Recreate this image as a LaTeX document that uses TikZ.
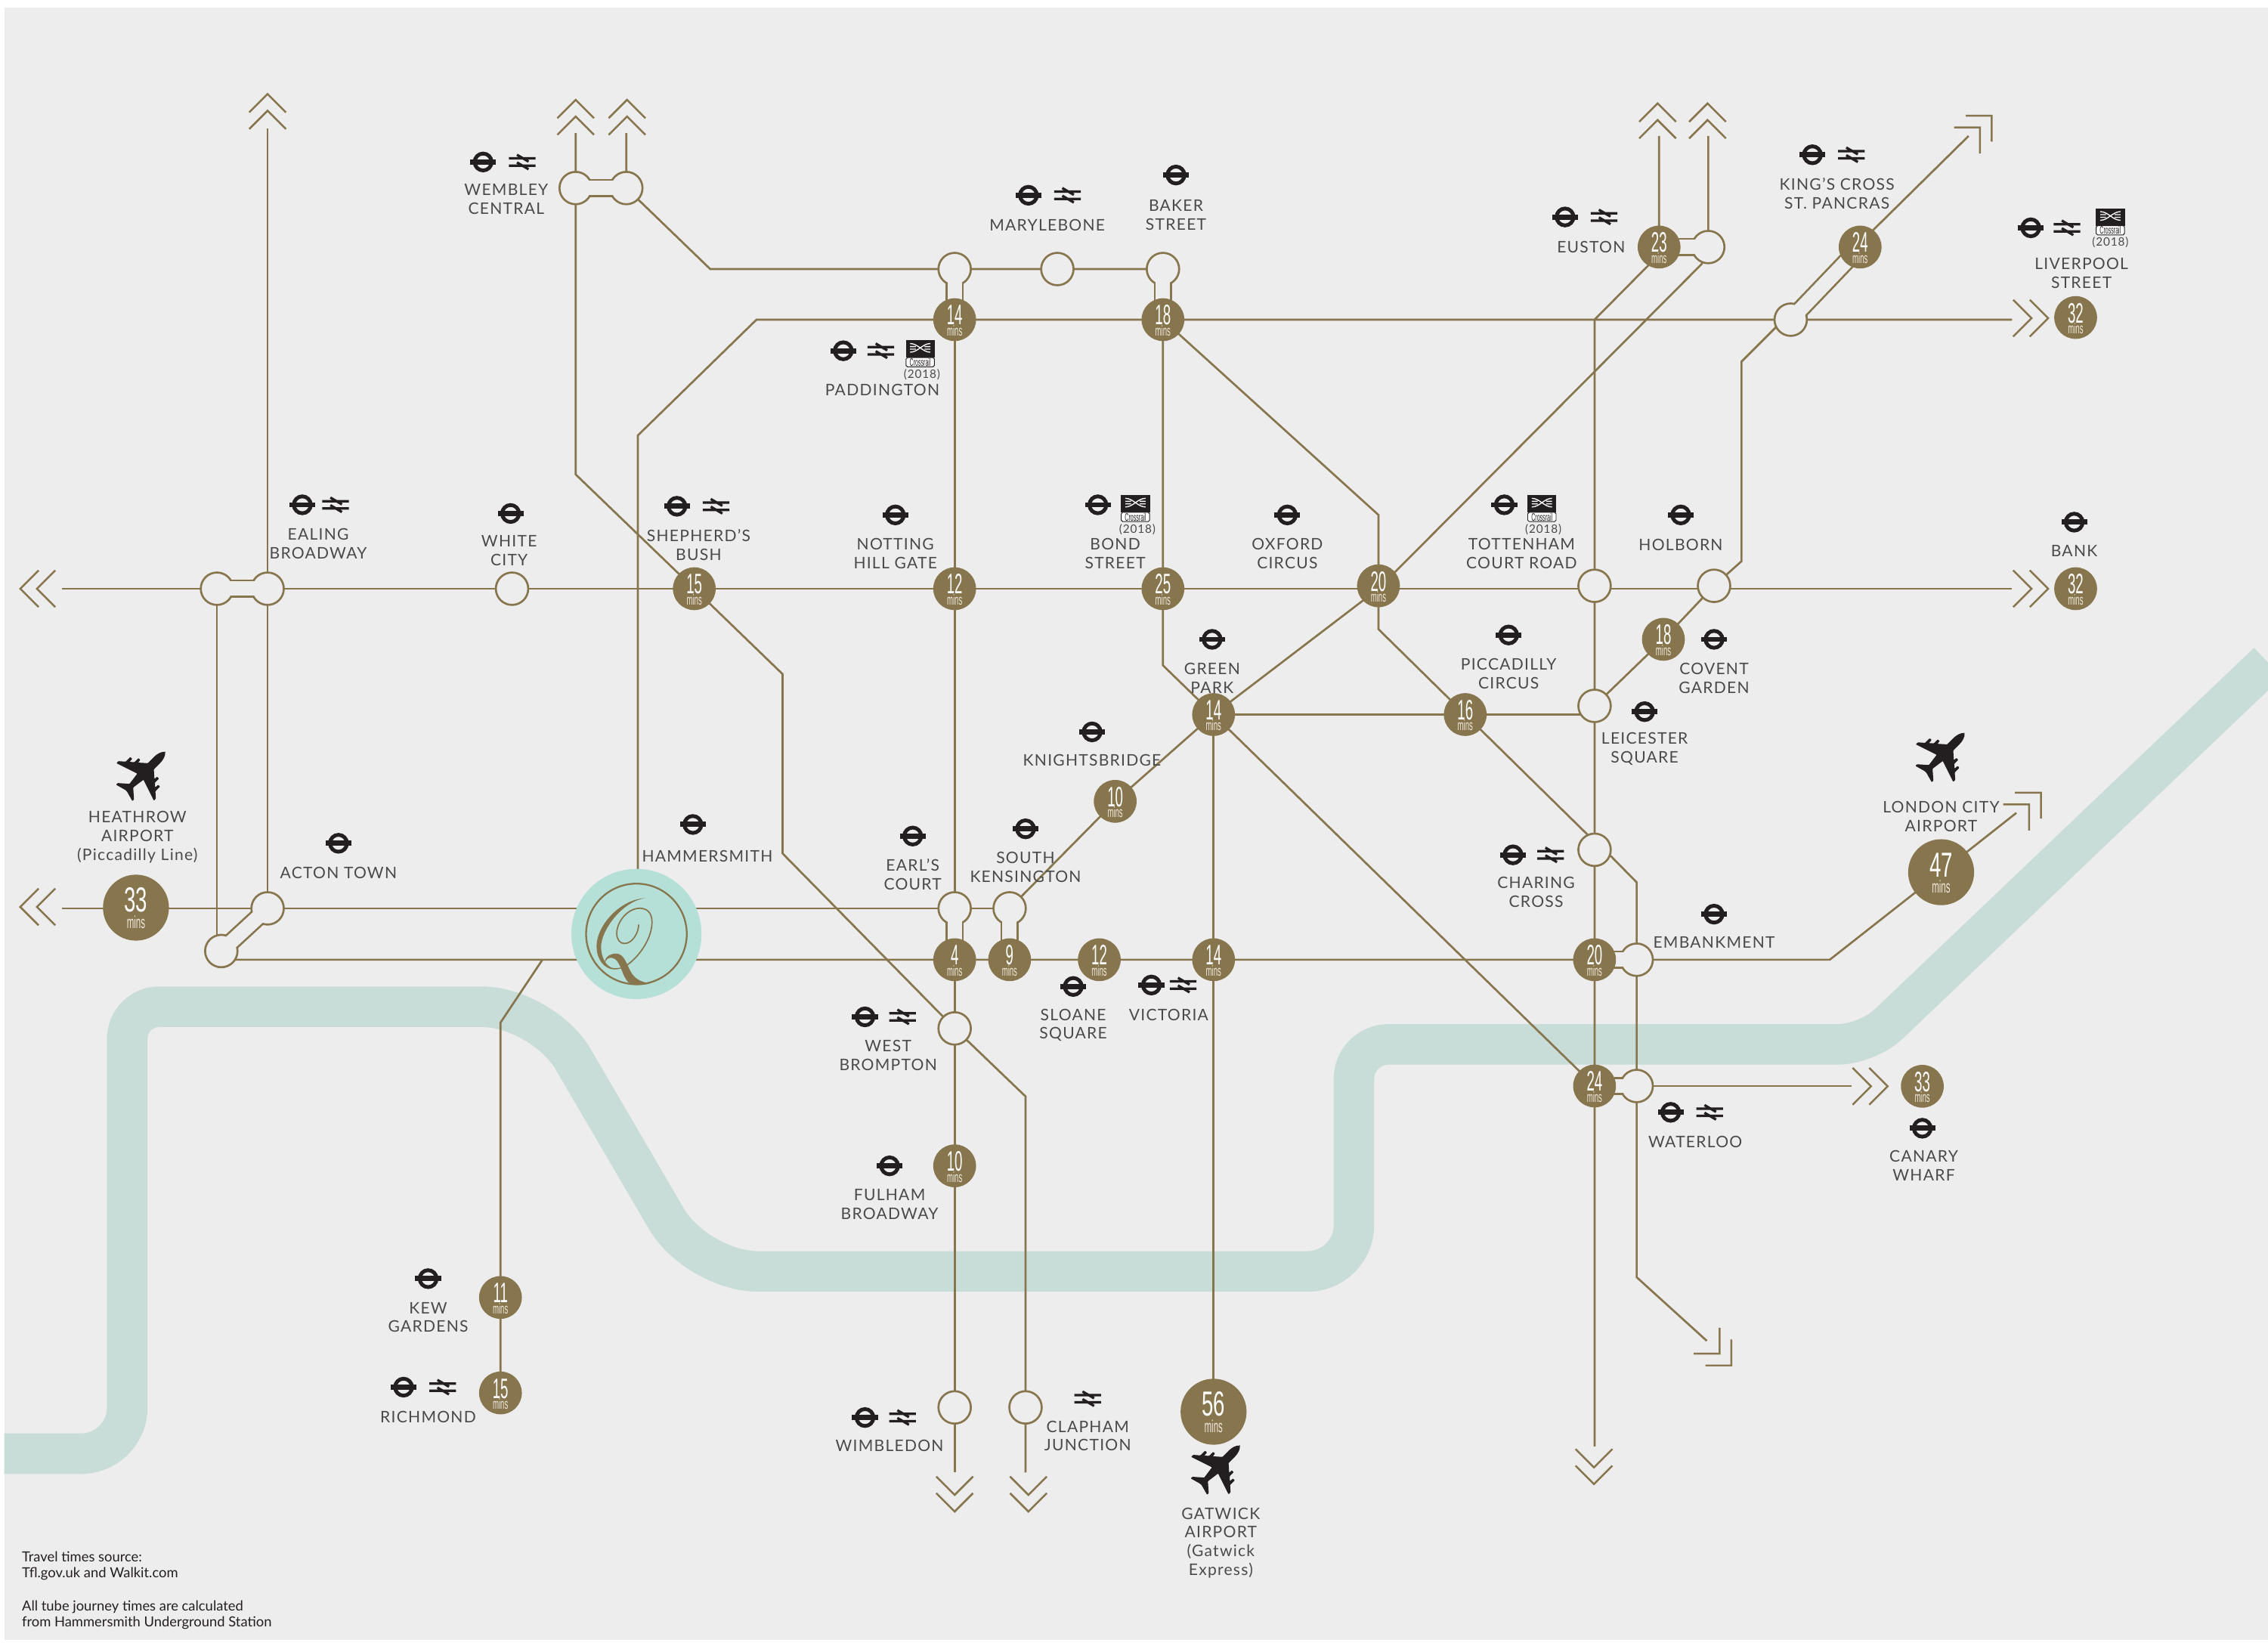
\documentclass[tikz,border=0pt]{standalone}
\usepackage{fontspec}
\setmainfont{Lato}
\newfontfamily\labfam[LetterSpace=6]{Lato}
\newfontfamily\numfam[FakeStretch=0.5]{Liberation Sans}
\newfontfamily\bignumfam[FakeStretch=0.6]{Liberation Sans}
\definecolor{gold}{HTML}{87754E}
\definecolor{paper}{HTML}{EDEDED}
\definecolor{river}{HTML}{C8DDD8}
\definecolor{mint}{HTML}{B5E0D8}
\definecolor{ink}{HTML}{231F20}
\definecolor{labc}{HTML}{4A4A4A}
\definecolor{cream}{HTML}{EFE9DC}
\pgfdeclarelayer{back}\pgfdeclarelayer{lines}\pgfdeclarelayer{bridgeout}\pgfdeclarelayer{bridgein}\pgfdeclarelayer{top}
\pgfsetlayers{back,lines,bridgeout,main,bridgein,top}
\tikzset{
 tube/.style={draw=gold,line width=1.4pt},
 openst/.style={circle,draw=gold,fill=paper,line width=1.4pt,minimum size=22.4pt,inner sep=0pt},
 timest/.style={circle,fill=gold,minimum size=29.6pt,inner sep=0pt,text=white},
 bigst/.style={circle,fill=gold,minimum size=45.6pt,inner sep=0pt,text=white},
 lab/.style={align=center,inner sep=0pt,text=labc,yshift=-0.7pt,font=\labfam\fontsize{11}{13}\selectfont},
 tiny/.style={align=center,inner sep=0pt,text=labc,font=\labfam\fontsize{8}{9}\selectfont},
 foot/.style={align=left,anchor=west,inner sep=0pt,text=ink,font=\fontsize{9.6}{11.3}\selectfont},
 chev/.pic={\draw[gold,line width=1.3pt] (-12.7,12.7)--(0,0)--(12.7,12.7) (-12.7,24.2)--(0,11.5)--(12.7,24.2);},
 roundel/.pic={\draw[ink,line width=2.6pt] (0,0) circle (5.85pt);\fill[ink] (-8.9,-1.8) rectangle (8.9,1.8);},
 railmark/.pic={\draw[ink,line width=1.7pt] (-9.2,-2.5)--(9.2,-2.5) (-9.2,2.5)--(9.2,2.5) (-3.6,-5)--(4.4,-0.3) (4.4,5)--(-3.6,0.3);},
 xrail/.pic={
   \fill[ink] (-10,-9.2) rectangle (10,2.7);
   \draw[ink,fill=white,line width=0.5pt,rounded corners=1pt] (-9.8,2.7) rectangle (9.8,9.1);
   \draw[white,line width=0.7pt] (-7,-7) .. controls (-1.5,-7) and (1.5,-1) .. (7,-1) (-7,-1) .. controls (-1.5,-1) and (1.5,-7) .. (7,-7) (-7,-4.9)--(-3,-4.9) (3,-4.9)--(7,-4.9) (-7,-3.1)--(-3,-3.1) (3,-3.1)--(7,-3.1);
   \node[inner sep=0pt,text=ink,font=\numfam\fontsize{7.4}{8}\selectfont] (-word) at (0,5.9) {Crossrail};},
 planeicon/.pic={\fill[ink,rounded corners=0.4pt] (0,-20) .. controls (2,-18.5) and (3,-15) .. (3,-12) -- (3,-6) -- (8,-1.6) -- (8.2,-4) -- (10,-4) -- (10,0) -- (12.5,2.2) -- (12.7,-0.6) -- (14.5,-0.6) -- (14.5,4) -- (18.3,7.3) -- (18.3,9.3) -- (3,4.2) -- (1.8,13) -- (8,18.4) -- (8,20) -- (0.8,18) -- (-0.8,18) -- (-8,20) -- (-8,18.4) -- (-1.8,13) -- (-3,4.2) -- (-18.3,9.3) -- (-18.3,7.3) -- (-14.5,4) -- (-14.5,-0.6) -- (-12.7,-0.6) -- (-12.5,2.2) -- (-10,0) -- (-10,-4) -- (-8.2,-4) -- (-8,-1.6) -- (-3,-6) -- (-3,-12) .. controls (-3,-15) and (-2,-18.5) .. (0,-20) -- cycle;},
}
\newcommand\tmst[3]{\node[timest] (#1) at (#2) {\smash{\makebox[0pt]{\raisebox{-3.6pt}{\numfam\fontsize{19.5}{20}\selectfont #3}}\makebox[0pt]{\raisebox{-11.2pt}{\color{cream}\numfam\fontsize{10}{10}\selectfont mins}}}};}
\newcommand\bgst[3]{\node[bigst] (#1) at (#2) {\smash{\makebox[0pt]{\raisebox{-3.1pt}{\bignumfam\fontsize{24}{24}\selectfont #3}}\makebox[0pt]{\raisebox{-14.5pt}{\color{cream}\numfam\fontsize{12}{12}\selectfont mins}}}};}
\newcommand\opst[2]{\node[openst] (#1) at (#2) {};}
\newcommand\slabel[3]{\node[lab] (#1) at (#2) {#3};}
\newcommand\bridgeseg[2]{%
 \begin{pgfonlayer}{bridgeout}\draw[gold,line width=12.7pt] (#1.center)--(#2.center);\end{pgfonlayer}%
 \begin{pgfonlayer}{bridgein}\draw[paper,line width=9.9pt] (#1.center)--(#2.center);\end{pgfonlayer}}
\begin{document}
\begin{tikzpicture}[x=1pt,y=-1pt]
\useasboundingbox (0,0) rectangle (1568,1135.4);
\begin{pgfonlayer}{back}
\fill[white] (0,0) rectangle (1568,1135.4);
\fill[paper] (3,5) rectangle (1568,1134);
\draw[river,line width=28pt] (3,1005) [rounded corners=32pt] -- (88,1005) [rounded corners=22pt] -- (88,696) [rounded corners=42pt] -- (375,696) -- (482,879) [rounded corners=32pt] -- (936,879) [rounded corners=24pt] -- (936,722) [rounded corners=20pt] -- (1291,722) [sharp corners] -- (1568,458);
\end{pgfonlayer}
% open stations
\opst{wemW}{398,130}\opst{wemE}{433,130}
\opst{padT}{660,186}\opst{mary}{731,186}\opst{baker}{804,186}
\opst{eusE}{1181,170.8}\opst{kc}{1238,221}
\opst{ealW}{150,407}\opst{ealE}{185,407}\opst{white}{354,407}
\opst{tcr}{1102.4,405}\opst{holb}{1185,405}\opst{leic}{1102.4,488}
\opst{actE}{185,628}\opst{actW}{153,657.5}
\opst{earlT}{660,628}\opst{skT}{698,628}
\opst{char}{1102.4,587.5}\opst{embE}{1131.5,663.5}\opst{watE}{1131.5,750.8}
\opst{wb}{660,711}\opst{wim}{660,973}\opst{clap}{709,973}
\begin{pgfonlayer}{top}
\tmst{pad}{660,221}{14}\tmst{bak}{804,221}{18}\tmst{eus}{1147,170.8}{23}\tmst{kc24}{1286,170.8}{24}
\tmst{liv}{1435,219.5}{32}\tmst{bank}{1435,407}{32}
\tmst{shep}{480,407}{15}\tmst{nott}{660,407}{12}\tmst{bond}{804,407}{25}\tmst{oxf}{953,405}{20}
\tmst{covent}{1150,442}{18}\tmst{gp}{839,494}{14}\tmst{picc}{1013,494}{16}\tmst{kni}{771,554}{10}
\tmst{earl}{660,663.5}{4}\tmst{sk}{698,663.5}{9}\tmst{slo}{760,663.5}{12}\tmst{vic}{839,663.5}{14}
\tmst{emb}{1102.4,663.5}{20}\tmst{wat}{1102.4,750.8}{24}\tmst{can}{1329,751}{33}
\tmst{ful}{660,806}{10}\tmst{kew}{346,897}{11}\tmst{rich}{346,963}{15}
\bgst{hea}{94,627.5}{33}\bgst{lc}{1342,603}{47}\bgst{gat}{839,976}{56}
\node[circle,fill=mint,minimum size=90pt,inner sep=0pt] (qm) at (440,645.7) {};
\draw[gold,line width=1.2pt] (qm.center) circle (34.8pt);
\begin{scope}[shift={(391.9,598.3)},x=0.17417pt,y=-0.17417pt]
\fill[gold] (310,130) .. controls (210,135) and (118,240) .. (118,320) .. controls (118,375) and (150,413) .. (190,413) .. controls (205,413) and (222,408) .. (238,397) .. controls (222,405) and (205,408) .. (190,408) .. controls (160,408) and (135,370) .. (136,320) .. controls (137,260) and (215,145) .. (310,130) -- cycle;
\fill[gold] (150,392) .. controls (148,365) and (170,350) .. (195,350) .. controls (225,350) and (235,385) .. (250,415) .. controls (265,445) and (285,462) .. (330,468) .. controls (300,478) and (265,475) .. (245,465) .. controls (225,445) and (220,415) .. (205,388) .. controls (190,360) and (160,360) .. (152,385) -- cycle;
\draw[gold,line width=0.9pt] (240,395) .. controls (300,350) and (338,280) .. (338,225) .. controls (338,185) and (315,170) .. (290,170) .. controls (240,170) and (198,225) .. (198,270) .. controls (198,295) and (212,310) .. (228,310) .. controls (262,310) and (285,265) .. (285,235);
\end{scope}
\end{pgfonlayer}
% free ends
\coordinate (q1) at (440,628);\coordinate (q2) at (440,663.5);\coordinate (q3) at (441,646);
\coordinate (eW) at (43,407);\coordinate (eE) at (1391,407);\coordinate (eH) at (43,628);
\coordinate (eU1) at (185,89);\coordinate (eU2) at (398,92);\coordinate (eU3) at (433,92);
\coordinate (eU4) at (1147,94);\coordinate (eU5) at (1181,94);
\coordinate (eP) at (1391,221);\coordinate (eK) at (1361,94);\coordinate (eLC) at (1394,562);
\coordinate (eCan) at (1280,750.8);\coordinate (eD1) at (660,1018);\coordinate (eD2) at (709,1018);\coordinate (eD3) at (1102.4,1000);\coordinate (eTh) at (1180,927);
\coordinate (branch) at (375,663.5);
\begin{pgfonlayer}{lines}
\draw[tube] (eW)--(ealW.center)--(ealE.center)--(white.center)--(shep.center)--(nott.center)--(bond.center)--(oxf.center |- nott.center)--(tcr.center |- nott.center)--(holb.center |- nott.center)--(eE);
\draw[tube] (eU1)--(ealE.center)--(actE.center);
\draw[tube] (ealW.center)--(ealW.center |- actW.center);
\draw[tube] (eH)--(hea.center |- eH)--(actE.center)--(q1)--(earlT.center)--(skT.center);
\draw[tube] (actW.center |- q2)--(q2)--(earl.center)--(sk.center)--(slo.center)--(vic.center)--(emb.center)--(embE.center)--(1265,663.5)--(lc.center)--(eLC);
\draw[tube] (branch)--(346,707)--(kew.center)--(rich.center);
\draw[tube] (eU2)--(wemW.center)--(398,328)--(shep.center)--(541,466)--(541,590)--(wb.center)--(709,758)--(clap.center)--(eD2);
\draw[tube] (eU3)--(wemE.center)--(491,186)--(padT.center)--(mary.center)--(baker.center);
\draw[tube] (q3)--(441,301)--(523,221)--(pad.center)--(bak.center)--(kc.center)--(eP);
\draw[tube] (pad.center)--(nott.center)--(earlT.center)--(earl.center)--(wb.center)--(ful.center)--(wim.center)--(eD1);
\draw[tube] (bak.center)--(bond.center)--(804,460)--(gp.center);
\draw[tube] (bak.center)--(953,356)--(953,435)--(picc.center)--(1097,576.5)--(char.center);
\draw[tube] (eU4)--(eus.center)--(1141,182)--(1102.4,221)--(tcr.center)--(leic.center)--(char.center)--(emb.center)--(wat.center)--(eD3);
\draw[tube] (eU5)--(eusE.center)--(1176.5,182.5)--(oxf.center |- nott.center)--(gp.center)--(kni.center)--(skT.center);
\draw[tube] (eK)--(1291,163)--(kc24.center);
\draw[tube] (kc.center)--(1230,224)--(1204,250)--(1204,388)--(holb.center)--(covent.center)--(leic.center);
\draw[tube] (gp.center)--(picc.center)--(leic.center |- picc.center);
\draw[tube] (gp.center)--(vic.center)--(gat.center);
\draw[tube] (gp.center)--(wat.center);
\draw[tube] (char.center)--(1113.8,592)--(1131.5,610)--(embE.center)--(watE.center)--(1131.5,883)--(eTh);
\draw[tube] (watE.center)--(eCan);
\end{pgfonlayer}
% bridges
\bridgeseg{wemW}{wemE}\bridgeseg{padT}{pad}\bridgeseg{baker}{bak}
\bridgeseg{eus}{eusE}\bridgeseg{kc}{kc24}\bridgeseg{ealW}{ealE}
\bridgeseg{actE}{actW}\bridgeseg{earlT}{earl}\bridgeseg{skT}{sk}
\bridgeseg{emb}{embE}\bridgeseg{wat}{watE}
% arrow chevrons
\pic at (185,65) {chev};\pic at (398,69) {chev};\pic at (433.5,69) {chev};
\pic at (1146,71.5) {chev};\pic at (1180.5,71.5) {chev};
\pic[rotate=-45] at (1377,80) {chev};\pic[rotate=-45] at (1411,548) {chev};
\pic[rotate=-90] at (1416,220) {chev};\pic[rotate=-90] at (1416,407) {chev};\pic[rotate=-90] at (1305,751) {chev};
\pic[rotate=90] at (14,407) {chev};\pic[rotate=90] at (14,627) {chev};
\pic[rotate=180] at (660,1045) {chev};\pic[rotate=180] at (711,1045) {chev};\pic[rotate=180] at (1102,1026) {chev};
\pic[rotate=-135] at (1197,944) {chev};
% roundels
\foreach \a/\b in {334/112,711/135,813/121,1082/150,1253/107,1404/157.5,583/242.5,209/349,353/355,468/350,619/356,759/349,890/356,1040/349,1162/356,1434/361,838/442,1043/439,1185/442,1137/492,755/506,479/570,234/583,631/578,709/573,1046/591,1185/632,742/682,796/681,598/703,1155/769,1329/780,615/806,296/884,279/959,598/980}
 {\pic at (\a,\b) {roundel};}
% national rail marks
\foreach \a/\b in {361/112,738/135,1109/150,1280/107,1429/157.5,609/242.5,232/349,495/350,1072/591,818/681,624/703,1182/769,306/959,624/980,752/967}
 {\pic at (\a,\b) {railmark};}
% crossrail
\pic (xpad) at (636.2,244.5) {xrail};\pic (xliv) at (1459,153.3) {xrail};\pic (xbond) at (785,351.5) {xrail};\pic (xtcr) at (1066,351.5) {xrail};
\node[tiny] (ypad) at (637.4,259) {(2018)};\node[tiny] (yliv) at (1459,167.7) {(2018)};\node[tiny] (ybond) at (786.3,366) {(2018)};\node[tiny] (ytcr) at (1067,366) {(2018)};
% planes
\pic[rotate=-45] at (100,534) {planeicon};\pic[rotate=-45] at (1344,521) {planeicon};\pic[rotate=-45] at (843,1013.6) {planeicon};
% labels
\slabel{l1}{350,137}{WEMBLEY\\CENTRAL}
\slabel{l2}{724,155}{MARYLEBONE}
\slabel{l3}{813,148}{BAKER\\STREET}
\slabel{l4}{1100,170}{EUSTON}
\slabel{l5}{1270,133}{KING’S CROSS\\ST. PANCRAS}
\slabel{l6}{1439,188}{LIVERPOOL\\STREET}
\slabel{l7}{610,269}{PADDINGTON}
\slabel{l8}{220,375}{EALING\\BROADWAY}
\slabel{l9}{352,380}{WHITE\\CITY}
\slabel{l10}{483,376}{SHEPHERD’S\\BUSH}
\slabel{l11}{619,382}{NOTTING\\HILL GATE}
\slabel{l12}{771,382}{BOND\\STREET}
\slabel{l13}{890,382}{OXFORD\\CIRCUS}
\slabel{l14}{1052,382}{TOTTENHAM\\COURT ROAD}
\slabel{l15}{1162,376}{HOLBORN}
\slabel{l16}{1434,380}{BANK}
\slabel{l17}{838,468}{GREEN\\PARK}
\slabel{l18}{1043,465}{PICCADILLY\\CIRCUS}
\slabel{l19}{1185,468}{COVENT\\GARDEN}
\slabel{l20}{1137,517}{LEICESTER\\SQUARE}
\slabel{l21}{755,525}{KNIGHTSBRIDGE}
\slabel{l22}{95,578}{HEATHROW\\AIRPORT\\(Piccadilly Line)}
\slabel{l23}{234,603}{ACTON TOWN}
\slabel{l24}{489,591}{HAMMERSMITH}
\slabel{l25}{631,604}{EARL’S\\COURT}
\slabel{l26}{709,599}{SOUTH\\KENSINGTON}
\slabel{l27}{1062,616}{CHARING\\CROSS}
\slabel{l28}{1342,564}{LONDON CITY\\AIRPORT}
\slabel{l29}{1185,651}{EMBANKMENT}
\slabel{l30}{742,708}{SLOANE\\SQUARE}
\slabel{l31}{808,701}{VICTORIA}
\slabel{l32}{614,729}{WEST\\BROMPTON}
\slabel{l33}{1172,789}{WATERLOO}
\slabel{l34}{1330,805}{CANARY\\WHARF}
\slabel{l35}{615,832}{FULHAM\\BROADWAY}
\slabel{l36}{296,910}{KEW\\GARDENS}
\slabel{l37}{296,979}{RICHMOND}
\slabel{l38}{615,999}{WIMBLEDON}
\slabel{l39}{752,992}{CLAPHAM\\JUNCTION}
\slabel{l40}{844,1066}{GATWICK\\AIRPORT\\(Gatwick\\Express)}
\node[foot] (f1) at (15,1082.5) {Travel times source:\\Tfl.gov.uk and Walkit.com};
\node[foot] (f2) at (15,1116.5) {All tube journey times are calculated\\from Hammersmith Underground Station};
\end{tikzpicture}
\end{document}
